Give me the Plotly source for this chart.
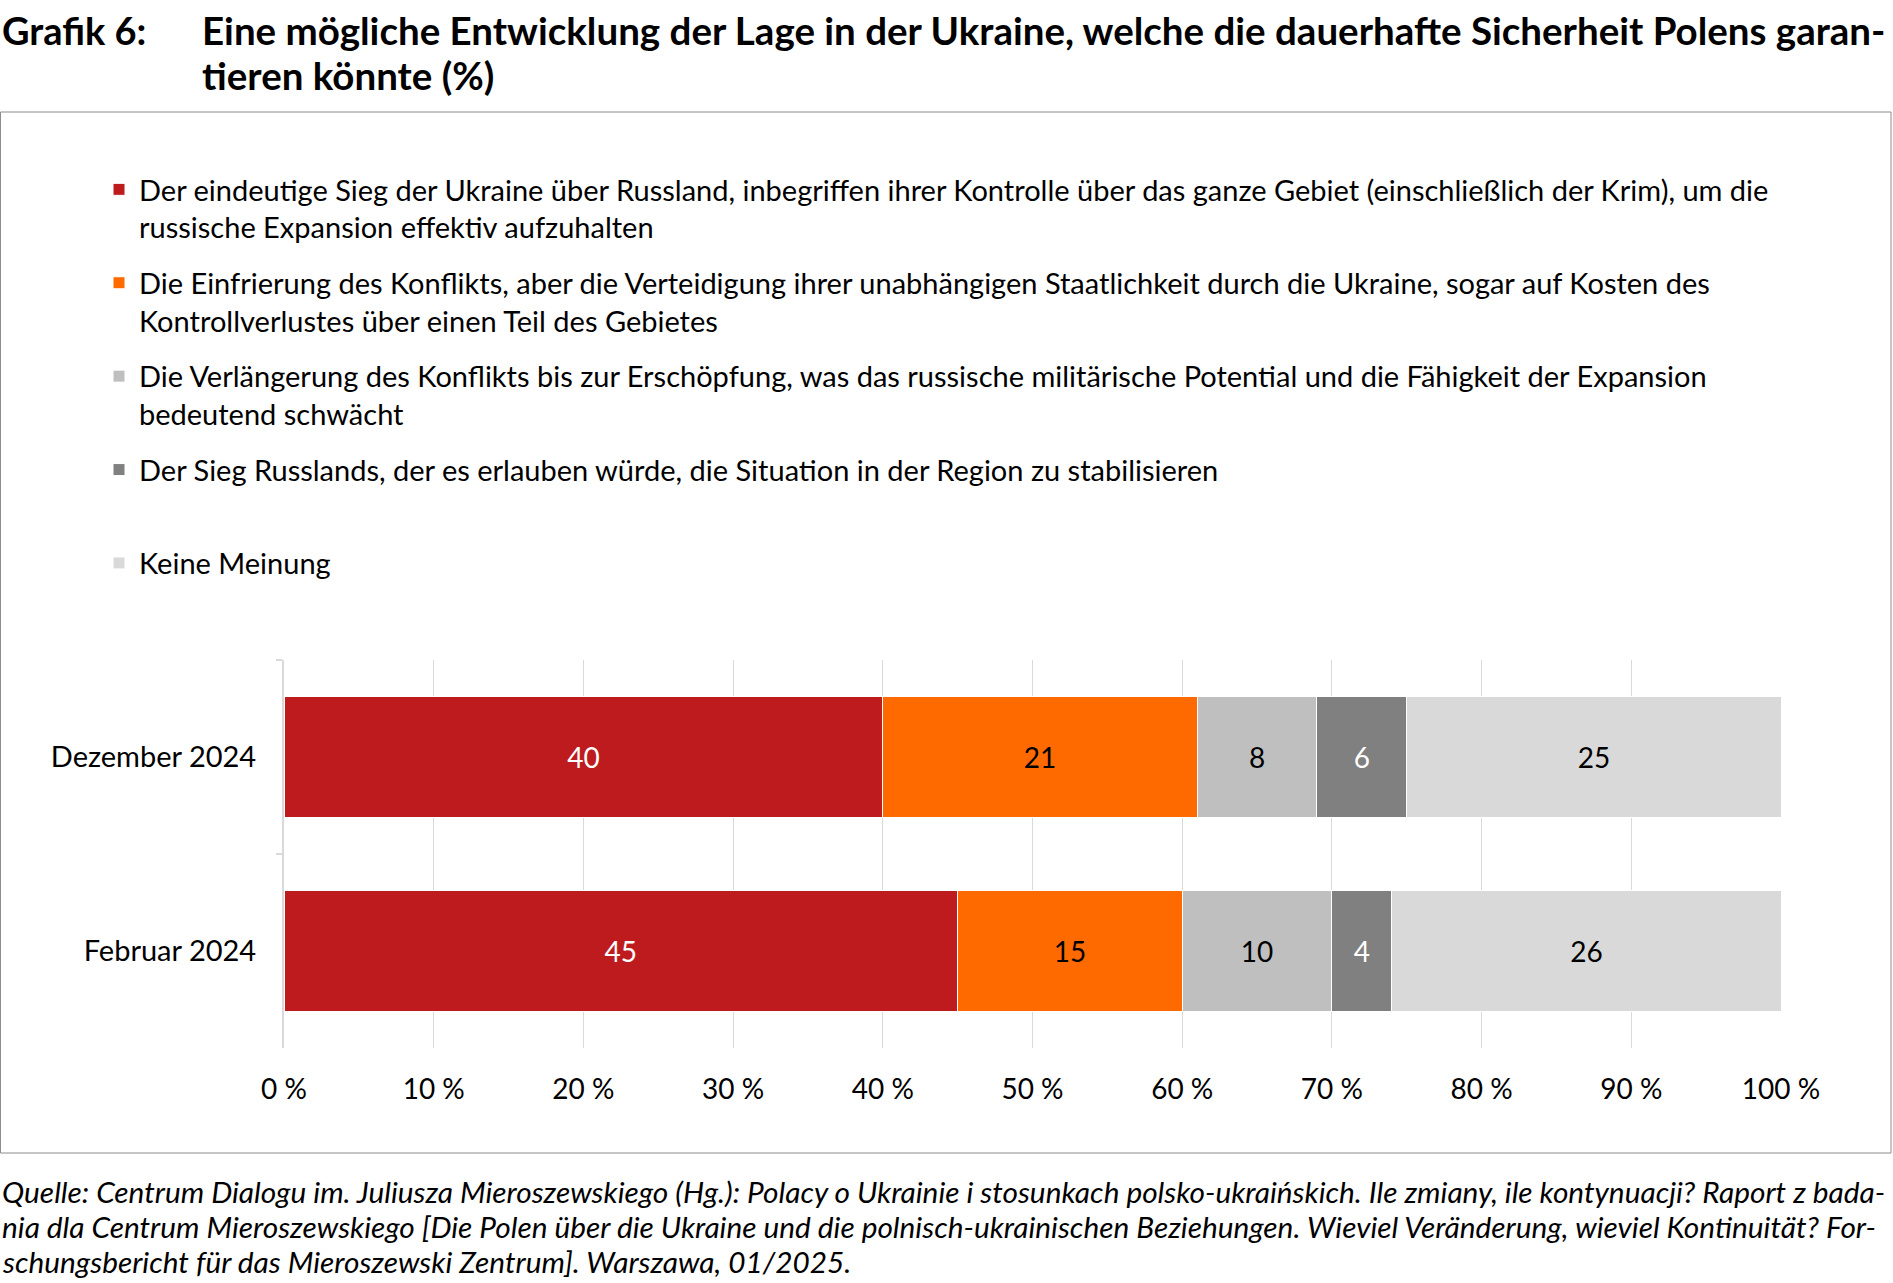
import plotly.graph_objects as go

# ---- data ----
categories = ["Dezember 2024", "Februar 2024"]
series_names = [
    "Der eindeutige Sieg der Ukraine über Russland, inbegriffen ihrer Kontrolle über das ganze Gebiet (einschließlich der Krim), um die<br>russische Expansion effektiv aufzuhalten",
    "Die Einfrierung des Konflikts, aber die Verteidigung ihrer unabhängigen Staatlichkeit durch die Ukraine, sogar auf Kosten des<br>Kontrollverlustes über einen Teil des Gebietes",
    "Die Verlängerung des Konflikts bis zur Erschöpfung, was das russische militärische Potential und die Fähigkeit der Expansion<br>bedeutend schwächt",
    "Der Sieg Russlands, der es erlauben würde, die Situation in der Region zu stabilisieren<br>\u00a0",
    "Keine Meinung",
]
sieg_ukraine = [40, 45]
einfrierung = [21, 15]
verlaengerung = [8, 10]
sieg_russland = [6, 4]
keine_meinung = [25, 26]
series_values = [sieg_ukraine, einfrierung, verlaengerung, sieg_russland, keine_meinung]

tick_vals = [0, 10, 20, 30, 40, 50, 60, 70, 80, 90, 100]
tick_text = ["0 %", "10 %", "20 %", "30 %", "40 %", "50 %", "60 %", "70 %", "80 %", "90 %", "100 %"]

title_label = "Grafik 6:"
title_lines = [
    "Eine mögliche Entwicklung der Lage in der Ukraine, welche die dauerhafte Sicherheit Polens garan-",
    "tieren könnte (%)",
]
source_lines = [
    "Quelle: Centrum Dialogu im. Juliusza Mieroszewskiego (Hg.): Polacy o Ukrainie i stosunkach polsko-ukraińskich. Ile zmiany, ile kontynuacji? Raport z bada-",
    "nia dla Centrum Mieroszewskiego [Die Polen über die Ukraine und die polnisch-ukrainischen Beziehungen. Wieviel Veränderung, wieviel Kontinuität? For-",
    "schungsbericht für das Mieroszewski Zentrum]. Warszawa, 01/2025.",
]

# ---- style ----
colors = ["#BE1B1E", "#FF6A00", "#BFBFBF", "#808080", "#D9D9D9"]
text_colors = ["white", "black", "black", "white", "black"]
FONT = "Lato, 'Open Sans', sans-serif"

W, H = 1893, 1283
ML, MR, MT, MB = 284, 112, 660, 235
PW = W - ML - MR
PH = H - MT - MB


def px2x(px):
    return (px - ML) / PW


def py2y(py):
    return (H - MB - py) / PH


fig = go.Figure()
for i, (name, vals) in enumerate(zip(series_names, series_values)):
    fig.add_trace(go.Bar(
        y=categories, x=vals, name=name, orientation="h",
        marker=dict(color=colors[i], line=dict(color="white", width=1)),
        text=[str(v) for v in vals], textposition="inside", insidetextanchor="middle",
        textangle=0, constraintext="none",
        textfont=dict(family=FONT, size=28, color=text_colors[i]),
        legendgroup=f"g{i}", hoverinfo="x+name",
    ))

fig.update_layout(
    width=W, height=H, autosize=False,
    margin=dict(l=ML, r=MR, t=MT, b=MB, pad=0),
    barmode="stack", bargap=0.38,
    paper_bgcolor="white", plot_bgcolor="white",
    font=dict(family=FONT, size=28, color="black"),
    showlegend=True,
    legend=dict(
        x=px2x(99), y=py2y(164), xanchor="left", yanchor="top",
        xref="paper", yref="paper",
        traceorder="grouped", tracegroupgap=15, valign="top",
        font=dict(family=FONT, size=29, color="black"),
        bgcolor="rgba(0,0,0,0)", borderwidth=0,
    ),
    xaxis=dict(
        range=[0, 100], tickvals=tick_vals, ticktext=tick_text,
        showgrid=True, gridcolor="#D9D9D9", gridwidth=1,
        zeroline=False, showline=False, ticks="",
        tickfont=dict(family=FONT, size=28, color="black"),
        ticklabelstandoff=22,
    ),
    yaxis=dict(
        autorange="reversed", showline=True, linecolor="#D9D9D9", linewidth=2,
        ticks="outside", tickson="boundaries", ticklen=6, tickcolor="#D9D9D9", tickwidth=2,
        tickfont=dict(family=FONT, size=29, color="black"),
        ticklabelstandoff=20, showgrid=False, zeroline=False,
    ),
)

# frame around chart area
fig.add_shape(type="rect", xref="paper", yref="paper",
              x0=px2x(0.5), x1=px2x(1891), y0=py2y(1153), y1=py2y(112),
              line=dict(color="#8C8C8C", width=1), fillcolor="rgba(0,0,0,0)", layer="below")

# title
fig.add_annotation(text=f"<b>{title_label}</b>", xref="paper", yref="paper",
                   x=px2x(0), y=py2y(30), xanchor="left", yanchor="middle", showarrow=False,
                   align="left", font=dict(family=FONT, size=38, color="black"))
for line, ypx in zip(title_lines, [30, 75]):
    fig.add_annotation(text=f"<b>{line}</b>", xref="paper", yref="paper",
                       x=px2x(200), y=py2y(ypx), xanchor="left", yanchor="middle", showarrow=False,
                       align="left", font=dict(family=FONT, size=38.5, color="black"))

# source
for line, ypx in zip(source_lines, [1191, 1226, 1261]):
    fig.add_annotation(text=f"<i>{line}</i>", xref="paper", yref="paper",
                       x=px2x(0), y=py2y(ypx), xanchor="left", yanchor="middle", showarrow=False,
                       align="left", font=dict(family=FONT, size=29.8, color="black"))

fig.write_html("out.html", config={"displayModeBar": False},
               post_script="document.body.style.margin='0';document.body.style.overflow='hidden';")
